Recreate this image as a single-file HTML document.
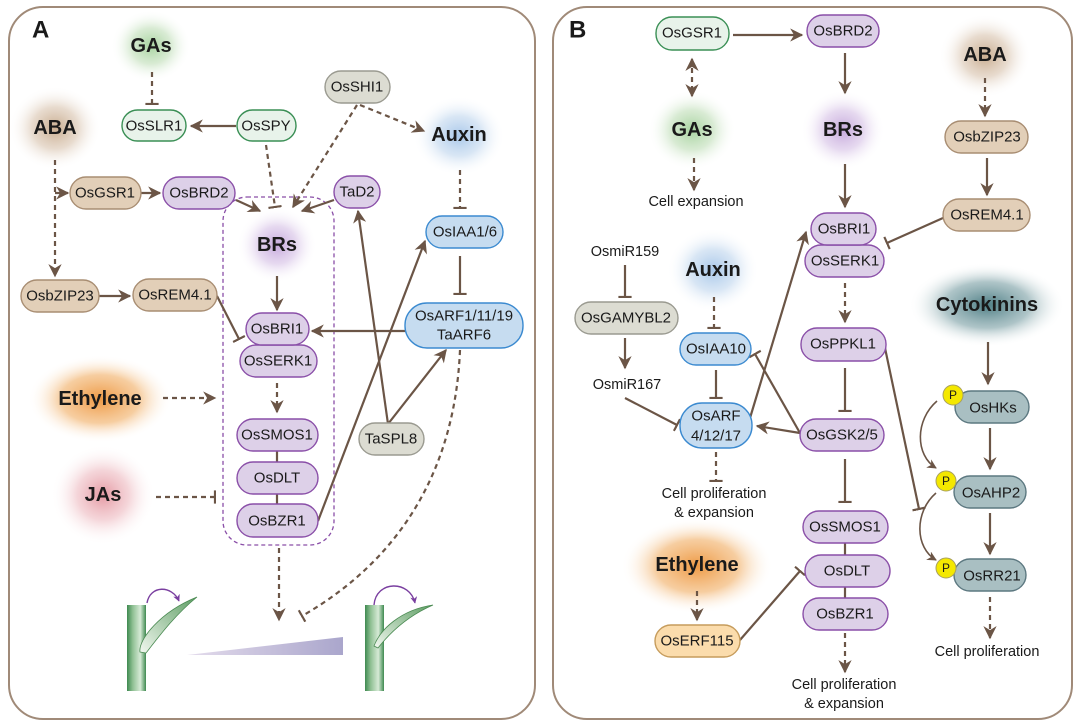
<!DOCTYPE html>
<html><head><meta charset="utf-8"><style>
html,body{margin:0;padding:0;background:#fff;}
svg{display:block;}
text{font-family:"Liberation Sans",Arial,sans-serif;fill:#1a1a1a;}
.n{font-size:15px;text-anchor:middle;dominant-baseline:central;}
.h{font-size:20px;font-weight:bold;text-anchor:middle;dominant-baseline:central;}
.t{font-size:14.5px;text-anchor:middle;dominant-baseline:central;}
.s{stroke:#6b5546;stroke-width:2.2;fill:none;}
.d{stroke:#6b5546;stroke-width:2.2;fill:none;stroke-dasharray:5 4;}
.pu{fill:#ddd0e8;stroke:#8a4fa8;stroke-width:1.4;}
.gr{fill:#e8f3ea;stroke:#3a8f55;stroke-width:1.4;}
.ta{fill:#e2cfb8;stroke:#a88d72;stroke-width:1.4;}
.bl{fill:#c6dcf0;stroke:#3b8ad0;stroke-width:1.4;}
.gy{fill:#dcdcd2;stroke:#9a9a90;stroke-width:1.4;}
.te{fill:#a9bfc2;stroke:#5c7880;stroke-width:1.4;}
.or{fill:#fbdcac;stroke:#c69c5c;stroke-width:1.4;}
</style></head><body>
<svg width="1080" height="726" viewBox="0 0 1080 726" xmlns="http://www.w3.org/2000/svg">
<defs>
<marker id="a" viewBox="0 0 10 10" refX="9" refY="5" markerWidth="6" markerHeight="6" orient="auto" markerUnits="strokeWidth"><path d="M0,0 L10,5 L0,10 L3,5 z" fill="#6b5546"/></marker>
<marker id="as" viewBox="0 0 10 10" refX="1" refY="5" markerWidth="6" markerHeight="6" orient="auto" markerUnits="strokeWidth"><path d="M10,0 L0,5 L10,10 L7,5 z" fill="#6b5546"/></marker>
<marker id="tb" viewBox="0 0 4 12" refX="3" refY="6" markerWidth="2" markerHeight="7" orient="auto" markerUnits="strokeWidth"><rect x="2" y="0" width="2" height="12" fill="#6b5546"/></marker>
<marker id="pa" viewBox="0 0 10 10" refX="9" refY="5" markerWidth="5" markerHeight="5" orient="auto" markerUnits="strokeWidth"><path d="M0,0 L10,5 L0,10 L3,5 z" fill="#7a3fa0"/></marker>
<radialGradient id="gG"><stop offset="0" stop-color="#a8d4a0"/><stop offset="0.5" stop-color="#cfe6c9" stop-opacity="0.8"/><stop offset="1" stop-color="#fff" stop-opacity="0"/></radialGradient>
<radialGradient id="gA"><stop offset="0" stop-color="#c9ad90"/><stop offset="0.5" stop-color="#e2d2c2" stop-opacity="0.8"/><stop offset="1" stop-color="#fff" stop-opacity="0"/></radialGradient>
<radialGradient id="gX"><stop offset="0" stop-color="#a9c8ea"/><stop offset="0.5" stop-color="#cfe0f2" stop-opacity="0.8"/><stop offset="1" stop-color="#fff" stop-opacity="0"/></radialGradient>
<radialGradient id="gB"><stop offset="0" stop-color="#c6a9dc"/><stop offset="0.5" stop-color="#e0d0ec" stop-opacity="0.8"/><stop offset="1" stop-color="#fff" stop-opacity="0"/></radialGradient>
<radialGradient id="gE"><stop offset="0" stop-color="#ee9a45"/><stop offset="0.55" stop-color="#f5c590" stop-opacity="0.85"/><stop offset="1" stop-color="#fff" stop-opacity="0"/></radialGradient>
<radialGradient id="gJ"><stop offset="0" stop-color="#e59aa4"/><stop offset="0.5" stop-color="#f2cbd0" stop-opacity="0.8"/><stop offset="1" stop-color="#fff" stop-opacity="0"/></radialGradient>
<radialGradient id="gC"><stop offset="0" stop-color="#4f7f86"/><stop offset="0.55" stop-color="#9ab6ba" stop-opacity="0.8"/><stop offset="1" stop-color="#fff" stop-opacity="0"/></radialGradient>
<linearGradient id="tri" x1="0" x2="1"><stop offset="0" stop-color="#e4dcec"/><stop offset="1" stop-color="#aaa6cc"/></linearGradient>
<linearGradient id="stem" x1="0" x2="1"><stop offset="0" stop-color="#3f8a50"/><stop offset="0.3" stop-color="#8fc093"/><stop offset="0.7" stop-color="#d6ead6"/><stop offset="1" stop-color="#3f8a50"/></linearGradient>
<linearGradient id="leaf" x1="0" y1="1" x2="1" y2="0"><stop offset="0" stop-color="#f2f8f0"/><stop offset="1" stop-color="#5e9e64"/></linearGradient>
</defs>

<rect x="9" y="7" width="526" height="712" rx="34" fill="none" stroke="#a08a78" stroke-width="2"/>
<rect x="553" y="7" width="519" height="712" rx="34" fill="none" stroke="#a08a78" stroke-width="2"/>
<text x="32" y="30" style="font-size:24px;font-weight:bold;" dominant-baseline="central">A</text>
<text x="569" y="30" style="font-size:24px;font-weight:bold;" dominant-baseline="central">B</text>

<ellipse cx="151" cy="46" rx="40" ry="36" fill="url(#gG)"/>
<ellipse cx="55" cy="128" rx="46" ry="42" fill="url(#gA)"/>
<ellipse cx="459" cy="136" rx="46" ry="40" fill="url(#gX)"/>
<ellipse cx="277" cy="245" rx="40" ry="38" fill="url(#gB)"/>
<ellipse cx="100" cy="399" rx="72" ry="44" fill="url(#gE)"/>
<ellipse cx="103" cy="495" rx="52" ry="50" fill="url(#gJ)"/>
<text class="h" x="151" y="46">GAs</text>
<text class="h" x="55" y="128">ABA</text>
<text class="h" x="459" y="135">Auxin</text>
<text class="h" x="277" y="245">BRs</text>
<text class="h" x="100" y="399">Ethylene</text>
<text class="h" x="103" y="495">JAs</text>

<rect x="223" y="197" width="111" height="348" rx="24" fill="none" stroke="#8a4fa8" stroke-width="1.3" stroke-dasharray="4 3"/>

<path class="d" d="M55,160 V276" marker-end="url(#a)"/>
<path class="d" d="M55,193 H68" marker-end="url(#a)"/>
<path class="s" d="M141,193 H160" marker-end="url(#a)"/>
<path class="s" d="M99,296 H130" marker-end="url(#a)"/>
<path class="s" d="M217,296 L239,339" marker-end="url(#tb)"/>
<path class="d" d="M152,72 V104" marker-end="url(#tb)"/>
<path class="s" d="M236,126 H191" marker-end="url(#a)"/>
<path class="d" d="M266,145 L275,207" marker-end="url(#tb)"/>
<path class="d" d="M357,105 L293,207" marker-end="url(#a)"/>
<path class="d" d="M360,105 L424,131" marker-end="url(#a)"/>
<path class="s" d="M236,200 L260,211" marker-end="url(#a)"/>
<path class="s" d="M334,200 L302,211" marker-end="url(#a)"/>
<path class="s" d="M277,276 V310" marker-end="url(#a)"/>
<path class="d" d="M460,170 V208" marker-end="url(#tb)"/>
<path class="s" d="M460,256 V294" marker-end="url(#tb)"/>
<path class="s" d="M405,331 H312" marker-end="url(#a)"/>
<path class="d" d="M277,383 V412" marker-end="url(#a)"/>
<path class="d" d="M163,398 H215" marker-end="url(#a)"/>
<path class="d" d="M156,497 H215" marker-end="url(#tb)"/>
<path class="s" d="M318,521 L425,241" marker-end="url(#a)"/>
<path class="s" d="M388,424 L358,211" marker-end="url(#a)"/>
<path class="s" d="M388,424 L446,350" marker-end="url(#a)"/>
<path class="d" d="M460,350 C455,470 400,560 302,616" marker-end="url(#tb)"/>
<path class="d" d="M279,548 V620" marker-end="url(#a)"/>
<path class="s" d="M277,451 V462 M277,494 V504" />

<rect class="gy" x="325" y="71" width="65" height="32" rx="16"/><text class="n" x="357" y="87">OsSHI1</text>
<rect class="gr" x="122" y="110" width="64" height="31" rx="15.5"/><text class="n" x="154" y="126">OsSLR1</text>
<rect class="gr" x="237" y="110" width="59" height="31" rx="15.5"/><text class="n" x="266" y="126">OsSPY</text>
<rect class="ta" x="70" y="177" width="71" height="32" rx="16"/><text class="n" x="105" y="193">OsGSR1</text>
<rect class="pu" x="163" y="177" width="72" height="32" rx="16"/><text class="n" x="199" y="193">OsBRD2</text>
<rect class="pu" x="334" y="176" width="46" height="32" rx="16"/><text class="n" x="357" y="192">TaD2</text>
<rect class="bl" x="426" y="216" width="77" height="32" rx="16"/><text class="n" x="465" y="232">OsIAA1/6</text>
<rect class="ta" x="21" y="280" width="78" height="32" rx="16"/><text class="n" x="60" y="296">OsbZIP23</text>
<rect class="ta" x="133" y="279" width="84" height="32" rx="16"/><text class="n" x="175" y="295">OsREM4.1</text>
<rect class="pu" x="240" y="345" width="77" height="32" rx="16"/><text class="n" x="278" y="361">OsSERK1</text>
<rect class="pu" x="246" y="313" width="63" height="32" rx="16"/><text class="n" x="277" y="329">OsBRI1</text>
<rect class="bl" x="405" y="303" width="118" height="45" rx="22"/><text class="n" x="464" y="316">OsARF1/11/19</text><text class="n" x="464" y="335">TaARF6</text>
<rect class="pu" x="237" y="419" width="81" height="32" rx="16"/><text class="n" x="277" y="435">OsSMOS1</text>
<rect class="pu" x="237" y="462" width="81" height="32" rx="16"/><text class="n" x="277" y="478">OsDLT</text>
<rect class="pu" x="237" y="504" width="81" height="33" rx="16"/><text class="n" x="277" y="521">OsBZR1</text>
<rect class="gy" x="359" y="423" width="65" height="32" rx="16"/><text class="n" x="391" y="439">TaSPL8</text>

<rect x="127" y="605" width="19" height="86" fill="url(#stem)"/>
<path d="M140,652 C138,640 160,612 197,597 C175,615 160,635 146,653 Z" fill="url(#leaf)" stroke="#4a8a52" stroke-width="0.8"/>
<path d="M147,603 C150,585 172,585 179,601" fill="none" stroke="#7a3fa0" stroke-width="1.4" marker-end="url(#pa)"/>
<polygon points="187,655 343,637 343,655" fill="url(#tri)"/>
<rect x="365" y="605" width="19" height="86" fill="url(#stem)"/>
<path d="M374,646 C380,630 400,610 433,605 C410,615 392,630 378,648 Z" fill="url(#leaf)" stroke="#4a8a52" stroke-width="0.8"/>
<path d="M374,605 C376,580 410,580 415,603" fill="none" stroke="#7a3fa0" stroke-width="1.4" marker-end="url(#pa)"/>

<ellipse cx="985" cy="56" rx="46" ry="42" fill="url(#gA)"/>
<ellipse cx="692" cy="130" rx="44" ry="40" fill="url(#gG)"/>
<ellipse cx="843" cy="130" rx="42" ry="40" fill="url(#gB)"/>
<ellipse cx="713" cy="270" rx="46" ry="42" fill="url(#gX)"/>
<ellipse cx="987" cy="305" rx="78" ry="42" fill="url(#gC)"/>
<ellipse cx="697" cy="566" rx="76" ry="48" fill="url(#gE)"/>
<text class="h" x="985" y="55">ABA</text>
<text class="h" x="692" y="130">GAs</text>
<text class="h" x="843" y="130">BRs</text>
<text class="h" x="713" y="270">Auxin</text>
<text class="h" x="987" y="305">Cytokinins</text>
<text class="h" x="697" y="565">Ethylene</text>

<path class="s" d="M733,35 H802" marker-end="url(#a)"/>
<path class="d" d="M692,59 V96" marker-start="url(#as)" marker-end="url(#a)"/>
<path class="d" d="M694,158 V190" marker-end="url(#a)"/>
<path class="s" d="M845,53 V93" marker-end="url(#a)"/>
<path class="s" d="M845,164 V207" marker-end="url(#a)"/>
<path class="d" d="M985,78 V116" marker-end="url(#a)"/>
<path class="s" d="M987,158 V195" marker-end="url(#a)"/>
<path class="s" d="M943,218 L887,243" marker-end="url(#tb)"/>
<path class="d" d="M845,283 V322" marker-end="url(#a)"/>
<path class="s" d="M845,368 V411" marker-end="url(#tb)"/>
<path class="s" d="M885,348 L919,509" marker-end="url(#tb)"/>
<path class="s" d="M845,459 V502" marker-end="url(#tb)"/>
<path class="s" d="M845,543 V555 M845,587 V598"/>
<path class="d" d="M845,633 V672" marker-end="url(#a)"/>
<path class="s" d="M800,433 L757,426" marker-end="url(#a)"/>
<path class="s" d="M800,433 L755,354" marker-end="url(#tb)"/>
<path class="s" d="M750,418 L806,232" marker-end="url(#a)"/>
<path class="s" d="M625,265 V297" marker-end="url(#tb)"/>
<path class="s" d="M625,338 V368" marker-end="url(#a)"/>
<path class="s" d="M625,398 L677,425" marker-end="url(#tb)"/>
<path class="d" d="M714,297 V328" marker-end="url(#tb)"/>
<path class="s" d="M716,370 V398" marker-end="url(#tb)"/>
<path class="d" d="M716,452 V481" marker-end="url(#tb)"/>
<path class="d" d="M697,591 V620" marker-end="url(#a)"/>
<path class="s" d="M740,640 L800,571" marker-end="url(#tb)"/>
<path class="s" d="M988,342 V384" marker-end="url(#a)"/>
<path class="s" d="M990,428 V469" marker-end="url(#a)"/>
<path class="s" d="M990,513 V554" marker-end="url(#a)"/>
<path class="d" d="M990,597 V638" marker-end="url(#a)"/>
<path d="M937,401 C915,420 915,455 936,468" fill="none" stroke="#6b5546" stroke-width="1.6" marker-end="url(#a)"/>
<path d="M936,493 C914,512 915,548 936,560" fill="none" stroke="#6b5546" stroke-width="1.6" marker-end="url(#a)"/>

<rect class="gr" x="656" y="17" width="73" height="33" rx="16"/><text class="n" x="692" y="33">OsGSR1</text>
<rect class="pu" x="807" y="15" width="72" height="32" rx="16"/><text class="n" x="843" y="31">OsBRD2</text>
<rect class="ta" x="945" y="121" width="83" height="32" rx="16"/><text class="n" x="987" y="137">OsbZIP23</text>
<rect class="ta" x="943" y="199" width="87" height="32" rx="16"/><text class="n" x="987" y="215">OsREM4.1</text>
<text class="t" x="696" y="202">Cell expansion</text>
<rect class="pu" x="805" y="245" width="79" height="32" rx="16"/><text class="n" x="845" y="261">OsSERK1</text>
<rect class="pu" x="811" y="213" width="65" height="32" rx="16"/><text class="n" x="844" y="229">OsBRI1</text>
<text class="t" x="625" y="252">OsmiR159</text>
<rect class="gy" x="575" y="302" width="103" height="32" rx="16"/><text class="n" x="626" y="318">OsGAMYBL2</text>
<rect class="bl" x="680" y="333" width="71" height="32" rx="16"/><text class="n" x="716" y="349">OsIAA10</text>
<rect class="pu" x="801" y="328" width="85" height="33" rx="16"/><text class="n" x="843" y="344">OsPPKL1</text>
<text class="t" x="627" y="385">OsmiR167</text>
<rect class="bl" x="680" y="403" width="72" height="45" rx="22"/><text class="n" x="716" y="416">OsARF</text><text class="n" x="716" y="436">4/12/17</text>
<rect class="pu" x="800" y="419" width="84" height="32" rx="16"/><text class="n" x="842" y="435">OsGSK2/5</text>
<text class="t" x="714" y="494">Cell proliferation</text><text class="t" x="714" y="513">&amp; expansion</text>
<rect class="pu" x="803" y="511" width="85" height="32" rx="16"/><text class="n" x="845" y="527">OsSMOS1</text>
<rect class="pu" x="805" y="555" width="85" height="32" rx="16"/><text class="n" x="847" y="571">OsDLT</text>
<rect class="pu" x="803" y="598" width="85" height="32" rx="16"/><text class="n" x="845" y="614">OsBZR1</text>
<rect class="or" x="655" y="625" width="85" height="32" rx="16"/><text class="n" x="697" y="641">OsERF115</text>
<text class="t" x="844" y="685">Cell proliferation</text><text class="t" x="844" y="704">&amp; expansion</text>
<rect class="te" x="955" y="391" width="74" height="32" rx="16"/><text class="n" x="993" y="408">OsHKs</text>
<rect class="te" x="954" y="476" width="72" height="32" rx="16"/><text class="n" x="991" y="493">OsAHP2</text>
<rect class="te" x="954" y="559" width="72" height="32" rx="16"/><text class="n" x="992" y="576">OsRR21</text>
<circle cx="953" cy="395" r="10" fill="#f4e800" stroke="#a8a060" stroke-width="1"/><text class="t" x="953" y="395" style="font-size:12px">P</text>
<circle cx="946" cy="481" r="10" fill="#f4e800" stroke="#a8a060" stroke-width="1"/><text class="t" x="946" y="481" style="font-size:12px">P</text>
<circle cx="946" cy="568" r="10" fill="#f4e800" stroke="#a8a060" stroke-width="1"/><text class="t" x="946" y="568" style="font-size:12px">P</text>
<text class="t" x="987" y="652">Cell proliferation</text>
</svg>
</body></html>
